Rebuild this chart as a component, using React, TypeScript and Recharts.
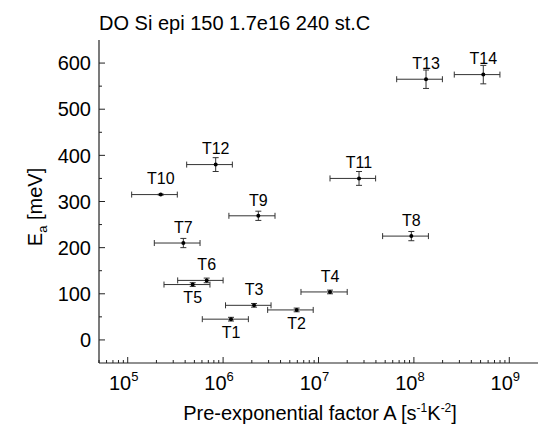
import React from "react";
import { ScatterChart, Scatter, XAxis, YAxis, ErrorBar } from "recharts";

// trap levels
const names = ["T1", "T2", "T3", "T4", "T5", "T6", "T7", "T8", "T9", "T10", "T11", "T12", "T13", "T14"];
const prefactor = [1.21e6, 5.9e6, 2.11e6, 1.32e7, 4.8e5, 6.73e5, 3.83e5, 9.4e7, 2.34e6, 2.22e5, 2.66e7, 8.36e5, 1.34e8, 5.34e8];
const prefactorLow = [6.05e5, 2.93e6, 1.06e6, 6.55e6, 2.4e5, 3.34e5, 1.9e5, 4.7e7, 1.15e6, 1.1e5, 1.32e7, 4.15e5, 6.6e7, 2.65e8];
const prefactorHigh = [1.84e6, 8.8e6, 3.18e6, 2.0e7, 7.28e5, 1.0e6, 5.73e5, 1.42e8, 3.5e6, 3.31e5, 3.97e7, 1.25e6, 1.99e8, 7.98e8];
const energy = [45, 65, 75, 104, 120, 129, 210, 225, 269, 315, 350, 380, 565, 575];
const energyErr = [4, 4, 4, 4, 4, 5, 10, 10, 10, 1, 15, 15, 20, 20];

const xMajor = [1e5, 1e6, 1e7, 1e8, 1e9];
const yMajor = [0, 100, 200, 300, 400, 500, 600];
const yMinor = [50, 150, 250, 350, 450, 550];

const labelsBelow = ["T1", "T2", "T5"];

const rows = names.map((name, i) => ({
  name,
  a: prefactor[i],
  ea: energy[i],
  errA: [prefactor[i] - prefactorLow[i], prefactorHigh[i] - prefactor[i]],
  errEa: energyErr[i],
}));

const xTicks: number[] = [];
[1e4, 1e5, 1e6, 1e7, 1e8, 1e9].forEach((d) => {
  for (let m = 1; m <= 9; m++) {
    const v = d * m;
    if (v >= 5e4 && v <= 1.5e9) xTicks.push(v);
  }
});
const yTicks = [...yMajor, ...yMinor].sort((p, q) => p - q);

const FONT = '"Liberation Sans", Arial, sans-serif';
const AXIS = "#222";

function XTick(props: any) {
  const { x, y, payload, side } = props;
  const v = payload.value;
  const major = xMajor.includes(v);
  const len = major ? 6 : 3;
  if (side === "top") {
    return <line x1={x} x2={x} y1={y} y2={y + len} stroke={AXIS} strokeWidth={1} />;
  }
  const exp = Math.round(Math.log10(v));
  return (
    <g>
      <line x1={x} x2={x} y1={y} y2={y - len} stroke={AXIS} strokeWidth={1} />
      {major && (
        <text x={x - 4} y={y + 27} textAnchor="middle" fontSize={20} fontFamily={FONT} fill="#000">
          10
          <tspan dy={-9} fontSize={13}>
            {exp}
          </tspan>
        </text>
      )}
    </g>
  );
}

function YTick(props: any) {
  const { x, y, payload, side } = props;
  const v = payload.value;
  const major = v % 100 === 0;
  const len = major ? 6 : 3;
  if (side === "right") {
    return <line x1={x} x2={x - len} y1={y} y2={y} stroke={AXIS} strokeWidth={1} />;
  }
  return (
    <g>
      <line x1={x} x2={x + len} y1={y} y2={y} stroke={AXIS} strokeWidth={1} />
      {major && (
        <text x={x - 8} y={y} dy="0.36em" textAnchor="end" fontSize={20} fontFamily={FONT} fill="#000">
          {v}
        </text>
      )}
    </g>
  );
}

function PointShape(props: any) {
  const { cx, cy, payload } = props;
  const below = labelsBelow.includes(payload.name);
  return (
    <g>
      <circle cx={cx} cy={cy} r={2} fill="#000" />
      <text
        x={cx}
        y={below ? cy + 13 : cy - 16}
        dy="0.36em"
        textAnchor="middle"
        fontSize={16}
        fontFamily={FONT}
        fill="#000"
      >
        {payload.name}
      </text>
    </g>
  );
}

export default function App() {
  return (
    <div style={{ position: "absolute", left: 0, top: 0, width: 544, height: 430, background: "#fff" }}>
      <ScatterChart width={544} height={430} margin={{ top: 40, right: 6, bottom: 37, left: 39 }}>
        <XAxis
          xAxisId="b"
          dataKey="a"
          type="number"
          scale="log"
          domain={[5e4, 2e9]}
          allowDataOverflow
          ticks={xTicks}
          interval={0}
          tickSize={0}
          tickMargin={0}
          height={30}
          axisLine={{ stroke: AXIS, strokeWidth: 1.2 }}
          tick={<XTick side="bottom" />}
        />
        <XAxis
          xAxisId="t"
          orientation="top"
          type="number"
          scale="log"
          domain={[5e4, 2e9]}
          allowDataOverflow
          ticks={xTicks}
          interval={0}
          tickSize={0}
          tickMargin={0}
          height={0}
          axisLine={{ stroke: AXIS, strokeWidth: 1.2 }}
          tick={<XTick side="top" />}
        />
        <YAxis
          yAxisId="l"
          dataKey="ea"
          type="number"
          domain={[-50, 650]}
          allowDataOverflow
          ticks={yTicks}
          interval={0}
          tickSize={0}
          tickMargin={0}
          width={60}
          axisLine={{ stroke: AXIS, strokeWidth: 1.2 }}
          tick={<YTick side="left" />}
        />
        <YAxis
          yAxisId="r"
          orientation="right"
          type="number"
          domain={[-50, 650]}
          allowDataOverflow
          ticks={yTicks}
          interval={0}
          tickSize={0}
          tickMargin={0}
          width={0}
          axisLine={{ stroke: AXIS, strokeWidth: 1.2 }}
          tick={<YTick side="right" />}
        />
        <Scatter xAxisId="t" yAxisId="r" data={[]} isAnimationActive={false} />
        <Scatter xAxisId="b" yAxisId="l" data={rows} shape={<PointShape />} isAnimationActive={false}>
          <ErrorBar dataKey="errA" direction="x" width={3} stroke="#333" strokeWidth={1} isAnimationActive={false} />
          <ErrorBar dataKey="errEa" direction="y" width={3} stroke="#333" strokeWidth={1} isAnimationActive={false} />
        </Scatter>
      </ScatterChart>
      <svg width={544} height={430} style={{ position: "absolute", left: 0, top: 0, pointerEvents: "none" }}>
        <text x={99} y={30} fontSize={20} fontFamily={FONT} fill="#000">
          DO Si epi 150 1.7e16 240 st.C
        </text>
        <text x={320} y={420} textAnchor="middle" fontSize={20} fontFamily={FONT} fill="#000">
          Pre-exponential factor A [s
          <tspan dy={-8} fontSize={12}>-1</tspan>
          <tspan dy={8}>K</tspan>
          <tspan dy={-8} fontSize={12}>-2</tspan>
          <tspan dy={8}>]</tspan>
        </text>
        <text transform="translate(42,207) rotate(-90)" textAnchor="middle" fontSize={20} fontFamily={FONT} fill="#000">
          E
          <tspan dy={5} fontSize={13}>a</tspan>
          <tspan dy={-5}> [meV]</tspan>
        </text>
      </svg>
    </div>
  );
}
